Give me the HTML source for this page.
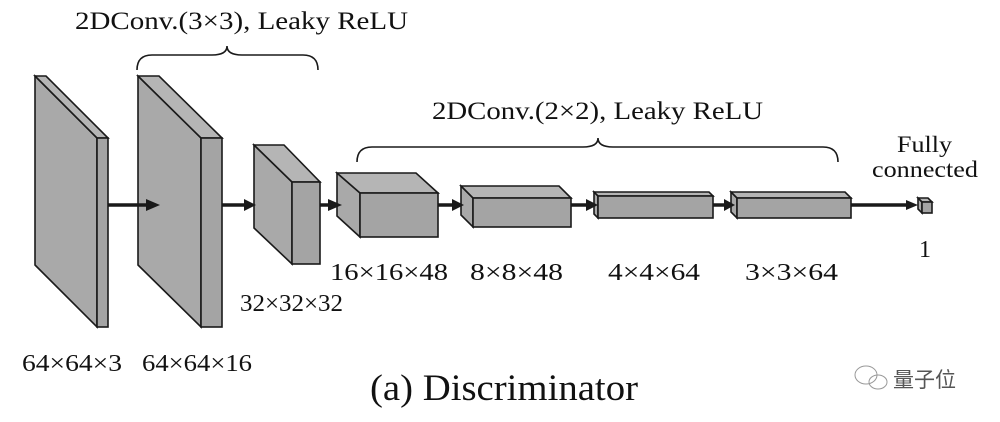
<!DOCTYPE html>
<html><head><meta charset="utf-8"><style>
html,body{margin:0;padding:0;background:#fff;width:1000px;height:422px;overflow:hidden}
svg text{font-family:"Liberation Serif",serif;fill:#111}
</style></head><body>
<svg width="1000" height="422" viewBox="0 0 1000 422" xmlns="http://www.w3.org/2000/svg">
<g stroke="#1a1a1a" stroke-width="1.6" stroke-linejoin="miter">
<polygon points="35,76 97,138 97,327 35,265" fill="#a9a9a9"/>
<polygon points="35,76 46,76 108,138 97,138" fill="#b5b5b5"/>
<rect x="97" y="138" width="11" height="189" fill="#a4a4a4"/>
<polygon points="138,76 201,138 201,327 138,265" fill="#a9a9a9"/>
<polygon points="138,76 159,76 222,138 201,138" fill="#b5b5b5"/>
<rect x="201" y="138" width="21" height="189" fill="#a4a4a4"/>
<polygon points="254,145 292,182 292,264 254,228" fill="#a9a9a9"/>
<polygon points="254,145 284,145 320,182 292,182" fill="#b5b5b5"/>
<rect x="292" y="182" width="28" height="82" fill="#a4a4a4"/>
<polygon points="337,173 360,193 360,237 337,216" fill="#a9a9a9"/>
<polygon points="337,173 416,173 438,193 360,193" fill="#b5b5b5"/>
<rect x="360" y="193" width="78" height="44" fill="#a4a4a4"/>
<polygon points="461,186 473,198 473,227 461,215" fill="#a9a9a9"/>
<polygon points="461,186 559,186 571,198 473,198" fill="#b5b5b5"/>
<rect x="473" y="198" width="98" height="29" fill="#a4a4a4"/>
<polygon points="594,192 598,196 598,218 594,214" fill="#a9a9a9"/>
<polygon points="594,192 709,192 713,196 598,196" fill="#b5b5b5"/>
<rect x="598" y="196" width="115" height="22" fill="#a4a4a4"/>
<polygon points="731,192 737,198 737,218 731,212" fill="#a9a9a9"/>
<polygon points="731,192 845,192 851,198 737,198" fill="#b5b5b5"/>
<rect x="737" y="198" width="114" height="20" fill="#a4a4a4"/>
<polygon points="918,198 922,202 922,213 918,209" fill="#a9a9a9"/>
<polygon points="918,198 928,198 932,202 922,202" fill="#b5b5b5"/>
<rect x="922" y="202" width="10" height="11" fill="#a4a4a4"/>
</g>
<g stroke="#1a1a1a" stroke-width="3.5">
<line x1="108" y1="205" x2="148" y2="205"/>
<line x1="222" y1="205" x2="246" y2="205"/>
<line x1="320" y1="205" x2="330" y2="205"/>
<line x1="438" y1="205" x2="455" y2="205"/>
<line x1="571" y1="205" x2="588" y2="205"/>
<line x1="713" y1="205" x2="726" y2="205"/>
<line x1="851" y1="205" x2="908" y2="205"/>
</g>
<g fill="#1a1a1a">
<polygon points="146,199 160,205 146,211"/>
<polygon points="244,199 256,205 244,211"/>
<polygon points="328,199 342,205 328,211"/>
<polygon points="452,199 464,205 452,211"/>
<polygon points="586,199 598,205 586,211"/>
<polygon points="724,199 735,205 724,211"/>
<polygon points="906,200 918,205 906,210"/>
</g>
<g fill="none" stroke="#1a1a1a" stroke-width="1.6">
<path d="M137,70 Q137,55 152,55 L212,55 Q227,55 227,46 Q227,55 242,55 L303,55 Q318,55 318,70"/>
<path d="M357,162 Q357,147 372,147 L583,147 Q598,147 598,138 Q598,147 613,147 L823,147 Q838,147 838,162"/>
</g>
<text x="75" y="29" font-size="25" textLength="333" lengthAdjust="spacingAndGlyphs">2DConv.(3×3), Leaky ReLU</text>
<text x="432" y="119" font-size="25" textLength="331" lengthAdjust="spacingAndGlyphs">2DConv.(2×2), Leaky ReLU</text>
<text x="897" y="152" font-size="23" textLength="55" lengthAdjust="spacingAndGlyphs">Fully</text>
<text x="872" y="177" font-size="23" textLength="106" lengthAdjust="spacingAndGlyphs">connected</text>
<text x="925" y="257" font-size="24" text-anchor="middle">1</text>
<text x="22" y="371" font-size="24" textLength="100" lengthAdjust="spacingAndGlyphs">64×64×3</text>
<text x="142" y="371" font-size="24" textLength="110" lengthAdjust="spacingAndGlyphs">64×64×16</text>
<text x="240" y="311" font-size="24" textLength="103" lengthAdjust="spacingAndGlyphs">32×32×32</text>
<text x="330" y="280" font-size="24" textLength="118" lengthAdjust="spacingAndGlyphs">16×16×48</text>
<text x="470" y="280" font-size="24" textLength="93" lengthAdjust="spacingAndGlyphs">8×8×48</text>
<text x="608" y="280" font-size="24" textLength="92" lengthAdjust="spacingAndGlyphs">4×4×64</text>
<text x="745" y="280" font-size="24" textLength="93" lengthAdjust="spacingAndGlyphs">3×3×64</text>
<text x="370" y="400" font-size="37" textLength="268" lengthAdjust="spacingAndGlyphs">(a) Discriminator</text>
<g fill="none" stroke="#999" stroke-width="1">
<ellipse cx="866" cy="375" rx="11" ry="9"/>
<ellipse cx="878" cy="382" rx="9" ry="7"/>
</g>
<text x="893" y="387" font-size="21" style="font-family:'Noto Sans CJK SC',sans-serif;fill:#555">量子位</text>
</svg>
</body></html>
